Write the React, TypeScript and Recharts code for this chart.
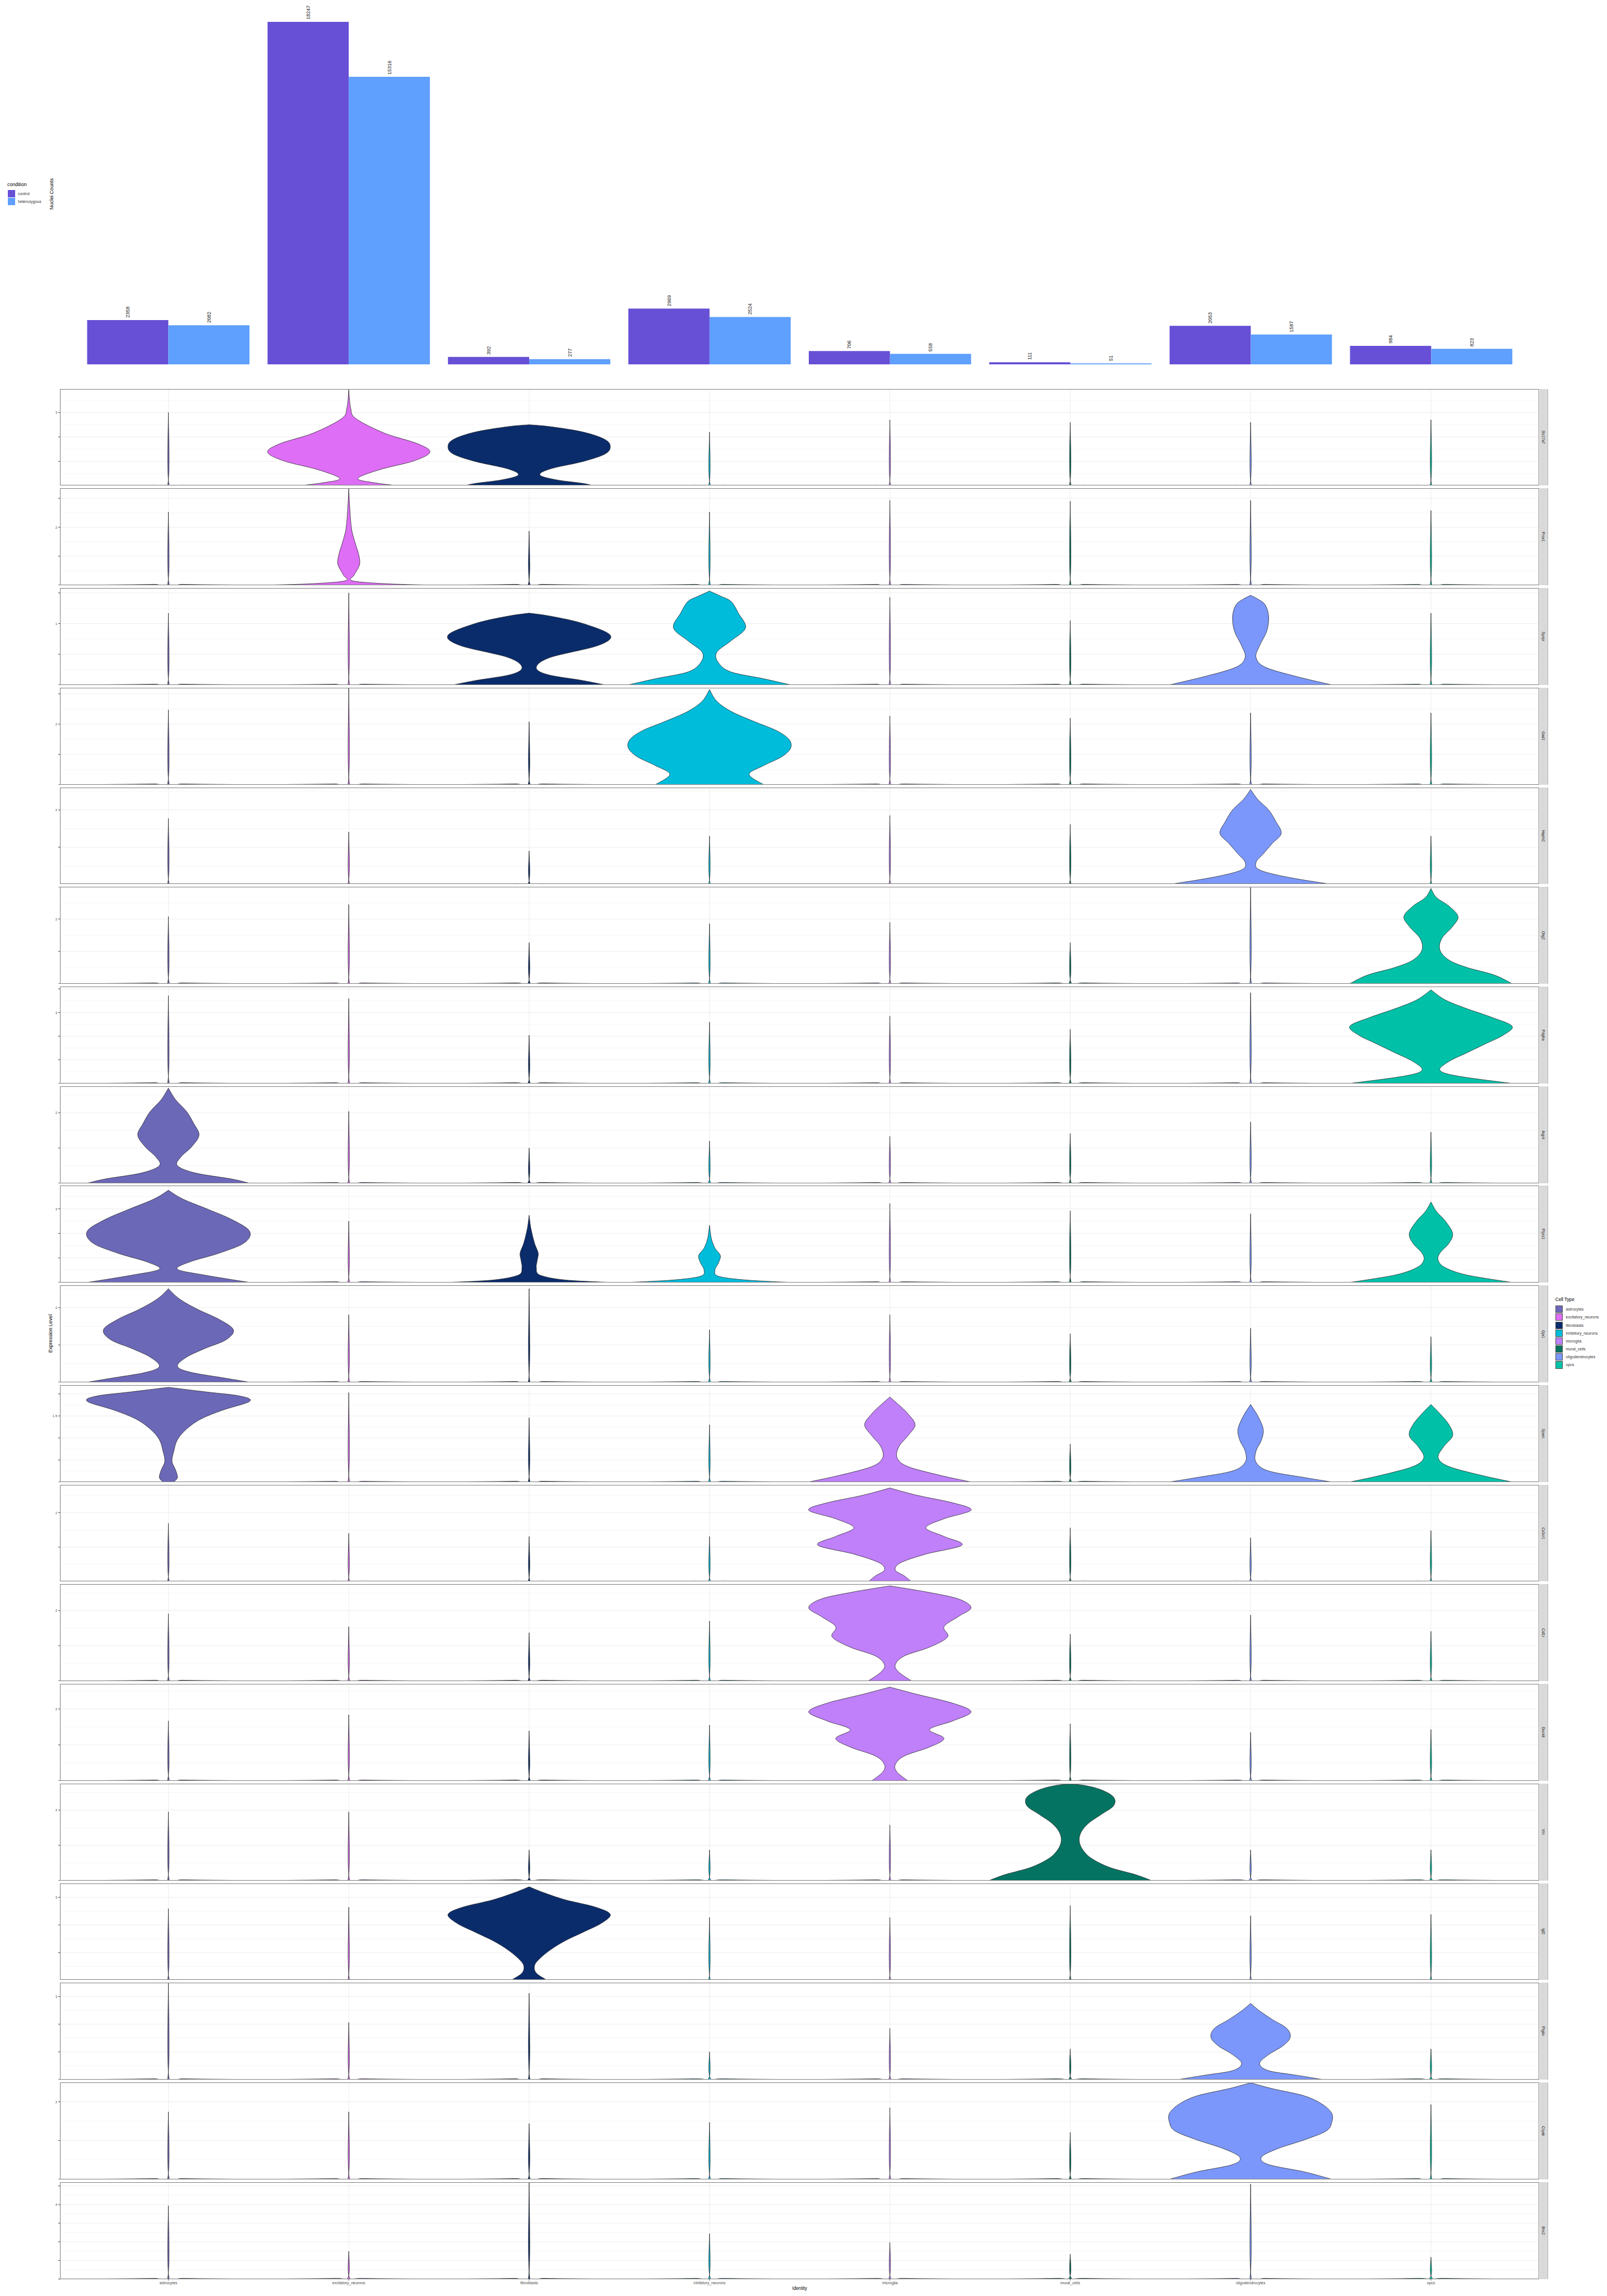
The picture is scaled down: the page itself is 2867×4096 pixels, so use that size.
import React from "react";
import {
  BarChart,
  Bar,
  ComposedChart,
  Scatter,
  XAxis,
  YAxis,
  CartesianGrid,
  LabelList,
} from "recharts";

const S = 0.819;
const s = (v: number) => v * S;
const FONT = "'Liberation Sans', Arial, Helvetica, sans-serif";

// layout, in pixels of the 3500 x 5000 original
const PANEL_LEFT = 131;
const PANEL_RIGHT = 3353;
const PANEL_TOP = 847;
const PANEL_H = 211;
const PANEL_STEP = 217;

const cellTypes = [
  "astrocytes",
  "excitatory_neurons",
  "fibroblasts",
  "inhibitory_neurons",
  "microglia",
  "mural_cells",
  "oligodendrocytes",
  "opcs",
];
const cellColors = ["#6c68b8", "#dd6ef5", "#0a2c6b", "#00bcdb", "#bf80f9", "#047362", "#7b97fb", "#00c1a8"];

const conditions = ["control", "heterozygous"];
const conditionColors = ["#674fd6", "#5f9ffe"];
const controlCounts = [2358, 18247, 392, 2969, 706, 111, 2053, 984];
const hetCounts = [2082, 15316, 277, 2524, 558, 51, 1587, 823];

const genes = [
  "Slc17a7", "Prox1", "Synpr", "Gad1", "Hapln2", "Olig2", "Pdgfra", "Aqp4", "Ptprz1", "Gja1",
  "Sparc", "Cx3cr1", "Csf1r", "Dock8", "Vtn", "Igf2", "Ptgds", "Cryab", "Bnc2",
];
const yMax = [3.96, 3.35, 1.58, 3.2, 2.6, 3.0, 4.1, 2.75, 3.95, 2.6, 2.2, 2.8, 2.75, 2.7, 2.75, 3.5, 3.5, 2.5, 5.2];
const yLabel = [3, 2, 1, 2, 2, 2, 3, 2, 3, 2, 1.5, 2, 2, 2, 2, 3, 3, 2, 4];

// max of the thin (mostly zero) violins; 0 where a full violin is listed below
const spikes = [
  [3.0, 0, 0, 2.2, 2.7, 2.6, 2.6, 2.7],
  [2.53, 0, 1.87, 2.53, 2.93, 2.9, 2.93, 2.58],
  [1.17, 1.5, 0, 0, 1.43, 1.05, 0, 1.17],
  [2.47, 3.2, 2.08, 0, 2.27, 2.2, 2.37, 2.37],
  [1.77, 1.41, 0.9, 1.3, 1.85, 1.61, 0, 1.3],
  [2.08, 2.45, 1.27, 1.86, 1.9, 1.27, 2.98, 0],
  [3.72, 3.59, 2.04, 2.6, 2.85, 2.29, 3.84, 0],
  [0, 2.04, 1.0, 1.2, 1.33, 1.41, 1.74, 1.45],
  [0, 2.5, 0, 0, 3.22, 2.92, 2.8, 0],
  [0, 1.81, 2.51, 1.41, 1.81, 1.3, 1.45, 1.22],
  [0, 2.03, 1.46, 1.3, 0, 0.86, 0, 0],
  [1.69, 1.4, 1.31, 1.31, 0, 1.56, 1.27, 1.48],
  [1.91, 1.54, 1.37, 1.7, 0, 1.33, 1.87, 1.41],
  [1.67, 1.84, 1.39, 1.55, 0, 1.59, 1.35, 1.43],
  [1.95, 1.95, 0.87, 0.87, 1.58, 0, 0.87, 0.87],
  [2.59, 2.64, 0, 2.27, 2.27, 2.7, 2.33, 2.38],
  [3.5, 2.06, 3.12, 1.0, 1.85, 1.11, 0, 1.11],
  [1.74, 1.74, 1.44, 1.47, 1.85, 1.21, 0, 1.93],
  [3.94, 1.49, 5.2, 2.44, 1.97, 1.34, 5.1, 1.18],
];

// violin outlines: [expression, half width in category units]
const slc17a7Exc = [[0, 0.28], [0.12, 0.15], [0.3, 0.05], [0.66, 0.17], [1.02, 0.36], [1.38, 0.45], [1.73, 0.38], [2.15, 0.2], [2.75, 0.04], [3.2, 0.01], [3.95, 0]];
const slc17a7Fib = [[0, 0.36], [0.1, 0.3], [0.25, 0.15], [0.45, 0.06], [0.7, 0.12], [1.0, 0.3], [1.3, 0.42], [1.6, 0.45], [1.9, 0.42], [2.2, 0.3], [2.42, 0.12], [2.5, 0]];
const prox1Exc = [[0, 0.45], [0.05, 0.2], [0.15, 0.02], [0.35, 0.03], [0.71, 0.06], [1.06, 0.055], [1.47, 0.035], [1.97, 0.015], [2.73, 0.005], [3.34, 0]];
const synprFib = [[0, 0.42], [0.07, 0.3], [0.17, 0.1], [0.29, 0.04], [0.45, 0.12], [0.64, 0.38], [0.81, 0.45], [1.0, 0.3], [1.12, 0.12], [1.17, 0]];
const synprInh = [[0, 0.45], [0.1, 0.3], [0.21, 0.12], [0.36, 0.05], [0.53, 0.04], [0.72, 0.12], [0.93, 0.2], [1.17, 0.16], [1.36, 0.12], [1.45, 0.06], [1.53, 0]];
const synprOli = [[0, 0.45], [0.14, 0.25], [0.29, 0.08], [0.45, 0.03], [0.64, 0.05], [0.88, 0.09], [1.12, 0.1], [1.31, 0.08], [1.4, 0.04], [1.46, 0]];
const gad1Inh = [[0, 0.3], [0.34, 0.22], [0.63, 0.3], [0.92, 0.4], [1.21, 0.45], [1.5, 0.44], [1.79, 0.37], [2.08, 0.25], [2.42, 0.12], [2.76, 0.04], [3.14, 0]];
const hapln2Oli = [[0, 0.45], [0.2, 0.2], [0.39, 0.05], [0.59, 0.03], [0.82, 0.07], [1.1, 0.12], [1.37, 0.17], [1.69, 0.14], [2.0, 0.1], [2.28, 0.04], [2.55, 0]];
const olig2Opc = [[0, 0.45], [0.27, 0.35], [0.5, 0.2], [0.73, 0.1], [1.04, 0.05], [1.4, 0.06], [1.77, 0.12], [2.08, 0.15], [2.4, 0.1], [2.67, 0.03], [2.95, 0]];
const pdgfraOpc = [[0, 0.45], [0.31, 0.15], [0.56, 0.05], [0.93, 0.1], [1.3, 0.2], [1.67, 0.3], [2.04, 0.4], [2.42, 0.45], [2.79, 0.34], [3.16, 0.2], [3.53, 0.08], [3.96, 0]];
const aqp4Ast = [[0, 0.45], [0.12, 0.35], [0.29, 0.15], [0.5, 0.05], [0.75, 0.07], [1.04, 0.13], [1.37, 0.17], [1.7, 0.14], [2.04, 0.1], [2.37, 0.04], [2.7, 0]];
const ptprz1Ast = [[0, 0.45], [0.3, 0.2], [0.54, 0.05], [0.84, 0.12], [1.19, 0.28], [1.61, 0.42], [2.09, 0.45], [2.57, 0.35], [2.98, 0.22], [3.4, 0.08], [3.76, 0]];
const ptprz1Fib = [[0, 0.45], [0.1, 0.2], [0.3, 0.06], [0.6, 0.04], [0.9, 0.045], [1.2, 0.05], [1.6, 0.03], [2.2, 0.01], [2.74, 0]];
const ptprz1Inh = [[0, 0.45], [0.1, 0.2], [0.25, 0.05], [0.5, 0.03], [0.8, 0.05], [1.1, 0.06], [1.4, 0.03], [1.8, 0.01], [2.33, 0]];
const ptprz1Opc = [[0, 0.45], [0.3, 0.2], [0.6, 0.08], [0.9, 0.04], [1.2, 0.05], [1.6, 0.1], [2.0, 0.12], [2.5, 0.08], [2.9, 0.03], [3.28, 0]];
const gja1Ast = [[0, 0.45], [0.12, 0.3], [0.27, 0.12], [0.43, 0.05], [0.67, 0.1], [0.9, 0.2], [1.14, 0.32], [1.41, 0.36], [1.69, 0.28], [1.96, 0.16], [2.24, 0.06], [2.51, 0]];
const sparcAst = [[0, 0.03], [0.1, 0.05], [0.27, 0.04], [0.47, 0.02], [0.7, 0.03], [0.96, 0.05], [1.2, 0.1], [1.43, 0.18], [1.63, 0.3], [1.83, 0.45], [1.95, 0.4], [2.05, 0.2], [2.15, 0]];
const sparcMic = [[0, 0.45], [0.15, 0.28], [0.35, 0.1], [0.55, 0.04], [0.8, 0.05], [1.05, 0.1], [1.3, 0.14], [1.55, 0.1], [1.75, 0.05], [1.93, 0]];
const sparcOli = [[0, 0.45], [0.1, 0.3], [0.25, 0.1], [0.45, 0.03], [0.7, 0.03], [0.95, 0.06], [1.2, 0.07], [1.5, 0.04], [1.76, 0]];
const sparcOpc = [[0, 0.45], [0.15, 0.28], [0.35, 0.1], [0.55, 0.04], [0.8, 0.07], [1.05, 0.12], [1.3, 0.1], [1.55, 0.05], [1.76, 0]];
const cx3cr1Mic = [[0, 0.12], [0.17, 0.08], [0.34, 0.03], [0.55, 0.06], [0.8, 0.2], [1.06, 0.4], [1.31, 0.3], [1.56, 0.2], [1.82, 0.3], [2.07, 0.45], [2.28, 0.35], [2.5, 0.15], [2.71, 0]];
const csf1rMic = [[0, 0.12], [0.25, 0.05], [0.46, 0.03], [0.71, 0.08], [0.96, 0.22], [1.25, 0.32], [1.54, 0.3], [1.83, 0.38], [2.08, 0.45], [2.33, 0.38], [2.53, 0.2], [2.7, 0]];
const dock8Mic = [[0, 0.1], [0.24, 0.04], [0.45, 0.03], [0.69, 0.08], [0.94, 0.22], [1.18, 0.3], [1.43, 0.22], [1.67, 0.35], [1.92, 0.45], [2.16, 0.35], [2.41, 0.15], [2.61, 0]];
const vtnMur = [[0, 0.45], [0.17, 0.36], [0.37, 0.22], [0.62, 0.12], [0.87, 0.07], [1.12, 0.05], [1.37, 0.06], [1.62, 0.1], [1.87, 0.17], [2.12, 0.24], [2.37, 0.24], [2.58, 0.17], [2.7, 0.08], [2.74, 0]];
const igf2Fib = [[0, 0.1], [0.26, 0.04], [0.53, 0.03], [0.79, 0.06], [1.11, 0.12], [1.43, 0.2], [1.74, 0.3], [2.06, 0.4], [2.38, 0.45], [2.64, 0.37], [2.91, 0.2], [3.17, 0.08], [3.38, 0]];
const ptgdsOli = [[0, 0.4], [0.16, 0.25], [0.32, 0.1], [0.58, 0.05], [0.9, 0.1], [1.22, 0.18], [1.53, 0.22], [1.85, 0.2], [2.17, 0.12], [2.48, 0.05], [2.75, 0]];
const cryabOli = [[0, 0.45], [0.19, 0.3], [0.38, 0.1], [0.57, 0.06], [0.79, 0.15], [1.02, 0.3], [1.25, 0.42], [1.47, 0.45], [1.7, 0.45], [1.93, 0.4], [2.15, 0.3], [2.34, 0.12], [2.49, 0]];

const fullViolins: { gene: number; cell: number; profile: number[][] }[] = [
  { gene: 0, cell: 1, profile: slc17a7Exc },
  { gene: 0, cell: 2, profile: slc17a7Fib },
  { gene: 1, cell: 1, profile: prox1Exc },
  { gene: 2, cell: 2, profile: synprFib },
  { gene: 2, cell: 3, profile: synprInh },
  { gene: 2, cell: 6, profile: synprOli },
  { gene: 3, cell: 3, profile: gad1Inh },
  { gene: 4, cell: 6, profile: hapln2Oli },
  { gene: 5, cell: 7, profile: olig2Opc },
  { gene: 6, cell: 7, profile: pdgfraOpc },
  { gene: 7, cell: 0, profile: aqp4Ast },
  { gene: 8, cell: 0, profile: ptprz1Ast },
  { gene: 8, cell: 2, profile: ptprz1Fib },
  { gene: 8, cell: 3, profile: ptprz1Inh },
  { gene: 8, cell: 7, profile: ptprz1Opc },
  { gene: 9, cell: 0, profile: gja1Ast },
  { gene: 10, cell: 0, profile: sparcAst },
  { gene: 10, cell: 4, profile: sparcMic },
  { gene: 10, cell: 6, profile: sparcOli },
  { gene: 10, cell: 7, profile: sparcOpc },
  { gene: 11, cell: 4, profile: cx3cr1Mic },
  { gene: 12, cell: 4, profile: csf1rMic },
  { gene: 13, cell: 4, profile: dock8Mic },
  { gene: 14, cell: 5, profile: vtnMur },
  { gene: 15, cell: 2, profile: igf2Fib },
  { gene: 16, cell: 6, profile: ptgdsOli },
  { gene: 17, cell: 6, profile: cryabOli },
];

const barData = cellTypes.map((c, i) => ({ cell: c, control: controlCounts[i], heterozygous: hetCounts[i] }));

// zero-inflated violin: flat base at 0 and a hairline up to its max
const spikeProfile = (h: number, max: number) => [
  [0, 0.45],
  [0.008 * max, 0.08],
  [0.02 * max, 0.003],
  [h, 0],
];

const outline = (center: number, profile: number[][]) => {
  const right = profile.map(([y, w]) => ({ x: center + w, y }));
  const left = profile
    .slice()
    .reverse()
    .map(([y, w]) => ({ x: center - w, y }));
  return [...right, ...left];
};

type P = { x: number; y: number };
const f = (v: number) => v.toFixed(2);

// smooth run through points (Catmull-Rom -> cubic Bezier), starting after a move/line to pts[0]
const smoothRun = (pts: P[]) => {
  let d = "";
  for (let i = 0; i < pts.length - 1; i++) {
    const p0 = pts[i - 1] || pts[i];
    const p1 = pts[i];
    const p2 = pts[i + 1];
    const p3 = pts[i + 2] || p2;
    const c1x = p1.x + (p2.x - p0.x) / 6;
    const c1y = p1.y + (p2.y - p0.y) / 6;
    const c2x = p2.x - (p3.x - p1.x) / 6;
    const c2y = p2.y - (p3.y - p1.y) / 6;
    d += `C${f(c1x)},${f(c1y)} ${f(c2x)},${f(c2y)} ${f(p2.x)},${f(p2.y)}`;
  }
  return d;
};

const violinLine = (fill: string) => (p: any) => {
  const pts = (p.points || []) as P[];
  if (pts.length < 4) return <g />;
  const n = pts.length / 2;
  const right = pts.slice(0, n);
  const left = pts.slice(n);
  const d =
    `M${f(right[0].x)},${f(right[0].y)}` +
    smoothRun(right) +
    `L${f(left[0].x)},${f(left[0].y)}` +
    smoothRun(left) +
    "Z";
  return <path d={d} fill={fill} stroke="#1f1f1f" strokeWidth={0.75} strokeLinejoin="round" />;
};

const BarValueLabel = (props: any) => {
  const { x, y, width, value } = props;
  const cx = Number(x) + Number(width) / 2 + s(3.8);
  const cy = Number(y) - s(5);
  return (
    <text x={0} y={0} transform={`translate(${cx},${cy}) rotate(-90)`} fontSize={s(11)} fill="#222" fontFamily={FONT}>
      {value}
    </text>
  );
};

function GenePanel({ gi }: { gi: number }) {
  const max = yMax[gi];
  const last = gi === genes.length - 1;
  const step = max < 2.3 ? 0.5 : 1;
  const ticks: number[] = [];
  for (let t = 0; t <= max + 1e-9; t += step) ticks.push(+t.toFixed(2));
  const minor: number[] = [];
  for (let t = step / 2; t < max; t += step) minor.push(+t.toFixed(2));
  const top = PANEL_TOP + gi * PANEL_STEP;
  const axisH = last ? 26 : 0;
  const w = s(PANEL_RIGHT);
  const h = s(PANEL_H + axisH);

  return (
    <>
      <div style={{ position: "absolute", left: 0, top: s(top), width: w, height: h }}>
        <ComposedChart width={w} height={h} margin={{ top: 0, right: 0, bottom: 0, left: 0 }}>
          <XAxis
            type="number"
            dataKey="x"
            domain={[0.4, 8.6]}
            ticks={[1, 2, 3, 4, 5, 6, 7, 8]}
            tickFormatter={(v: number) => cellTypes[Math.round(v) - 1] ?? ""}
            hide={!last}
            height={s(axisH)}
            interval={0}
            axisLine={false}
            tickLine={{ stroke: "#333" }}
            tickSize={s(3)}
            tick={{ fontSize: s(8.5), fill: "#4d4d4d" }}
            label={{ value: "Identity", position: "insideBottom", offset: s(2), fontSize: s(10), fill: "#000" }}
            allowDataOverflow
          />
          <YAxis
            type="number"
            dataKey="y"
            domain={[0, max]}
            ticks={ticks}
            interval={0}
            width={s(PANEL_LEFT)}
            axisLine={false}
            tickLine={{ stroke: "#333" }}
            tickSize={s(4)}
            tick={{ fontSize: s(7.5), fill: "#4d4d4d" }}
            tickFormatter={(v: number) => (Math.abs(v - yLabel[gi]) < 1e-6 ? String(v) : "")}
            allowDataOverflow
          />
          <CartesianGrid horizontalValues={minor} vertical={false} stroke="#f4f4f4" strokeWidth={0.8} />
          <CartesianGrid horizontalValues={ticks} verticalValues={[1, 2, 3, 4, 5, 6, 7, 8]} stroke="#ebebeb" strokeWidth={0.9} />
          {cellTypes.map((c, ci) => {
            const fv = fullViolins.find((v) => v.gene === gi && v.cell === ci);
            const profile = fv ? fv.profile : spikeProfile(spikes[gi][ci], max);
            return (
              <Scatter
                key={c}
                name={c}
                data={outline(ci + 1, profile)}
                fill={cellColors[ci]}
                line={violinLine(cellColors[ci])}
                lineType="joint"
                shape={() => <g />}
                isAnimationActive={false}
              />
            );
          })}
        </ComposedChart>
      </div>
      <div
        style={{
          position: "absolute",
          left: s(PANEL_LEFT),
          top: s(top),
          width: s(PANEL_RIGHT - PANEL_LEFT),
          height: s(PANEL_H),
          border: "1px solid #7f7f7f",
          boxSizing: "border-box",
          pointerEvents: "none",
        }}
      />
      <div
        style={{
          position: "absolute",
          left: s(PANEL_RIGHT + 1),
          top: s(top),
          width: s(18),
          height: s(PANEL_H),
          background: "#d9d9d9",
          borderRight: "1px solid #b3b3b3",
          boxSizing: "border-box",
          display: "flex",
          alignItems: "center",
          justifyContent: "center",
        }}
      >
        <span style={{ writingMode: "vertical-rl", fontSize: s(8), color: "#1a1a1a" }}>{genes[gi]}</span>
      </div>
    </>
  );
}

export default function App() {
  return (
    <div
      style={{
        position: "absolute",
        left: 0,
        top: 0,
        width: 2867,
        height: 4096,
        background: "#fff",
        fontFamily: FONT,
        overflow: "hidden",
      }}
    >
      {/* nuclei counts per cell type */}
      <div style={{ position: "absolute", left: 0, top: s(9) }}>
        <BarChart
          width={s(PANEL_RIGHT)}
          height={s(785)}
          data={barData}
          margin={{ top: 0, right: s(38.7), bottom: 0, left: s(170.3) }}
          barGap={0}
          barSize={s(176.8)}
        >
          <XAxis dataKey="cell" type="category" hide />
          <YAxis type="number" domain={[0, 19200]} hide />
          <Bar dataKey="control" fill={conditionColors[0]} isAnimationActive={false}>
            <LabelList dataKey="control" content={BarValueLabel} />
          </Bar>
          <Bar dataKey="heterozygous" fill={conditionColors[1]} isAnimationActive={false}>
            <LabelList dataKey="heterozygous" content={BarValueLabel} />
          </Bar>
        </BarChart>
      </div>

      <div
        style={{
          position: "absolute",
          left: s(112),
          top: s(422),
          transform: "translate(-50%, -50%) rotate(-90deg)",
          fontSize: s(11),
          whiteSpace: "nowrap",
          color: "#000",
        }}
      >
        Nuclei Counts
      </div>

      <div style={{ position: "absolute", left: s(16), top: s(395), fontSize: s(10.5), color: "#000" }}>condition</div>
      {conditions.map((c, i) => (
        <div key={c} style={{ position: "absolute", left: s(17), top: s(414 + i * 17), display: "flex", alignItems: "center" }}>
          <div style={{ width: s(16), height: s(16), background: conditionColors[i] }} />
          <span style={{ marginLeft: s(6), fontSize: s(8.5), color: "#333" }}>{c}</span>
        </div>
      ))}

      {genes.map((g, gi) => (
        <GenePanel key={g} gi={gi} />
      ))}

      <div
        style={{
          position: "absolute",
          left: s(110),
          top: s(2905),
          transform: "translate(-50%, -50%) rotate(-90deg)",
          fontSize: s(11),
          whiteSpace: "nowrap",
          color: "#000",
        }}
      >
        Expression Level
      </div>

      <div style={{ position: "absolute", left: s(3388), top: s(2826), fontSize: s(10), color: "#000" }}>Cell Type</div>
      {cellTypes.map((c, i) => (
        <div key={c} style={{ position: "absolute", left: s(3388), top: s(2844 + i * 17.3), display: "flex", alignItems: "center" }}>
          <div
            style={{
              width: s(16),
              height: s(16),
              background: cellColors[i],
              border: "1px solid #4d4d4d",
              boxSizing: "border-box",
            }}
          />
          <span style={{ marginLeft: s(7), fontSize: s(8.5), color: "#333", whiteSpace: "nowrap" }}>{c}</span>
        </div>
      ))}
    </div>
  );
}
